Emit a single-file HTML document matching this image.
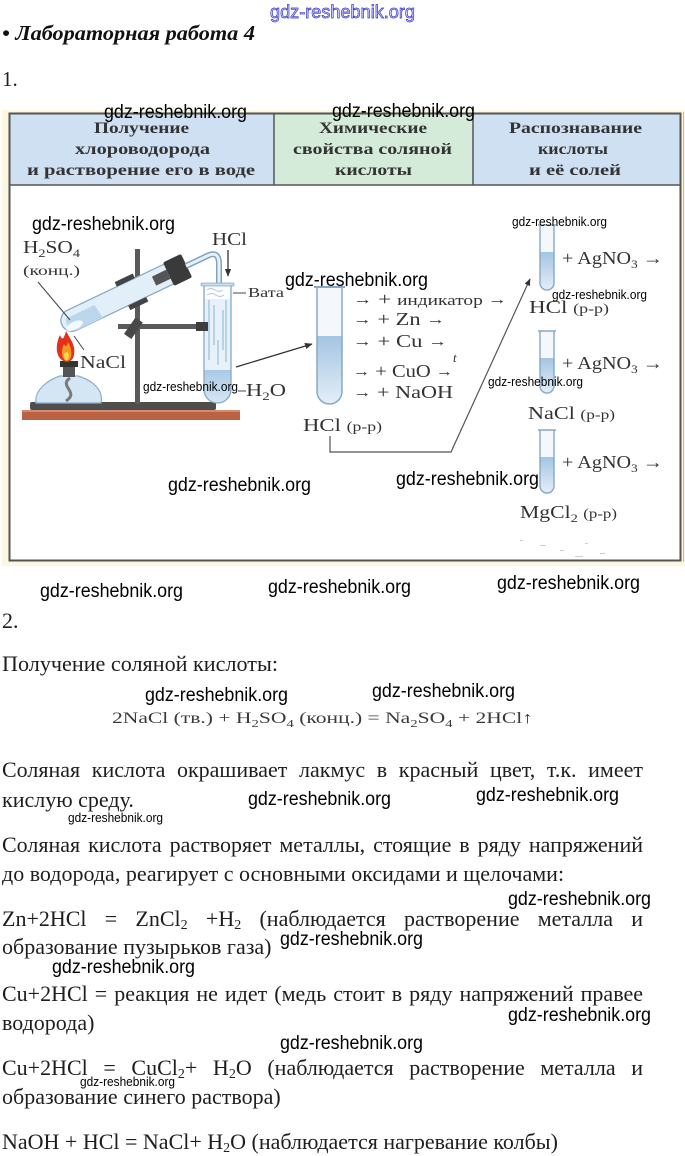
<!DOCTYPE html>
<html><head><meta charset="utf-8">
<style>
html,body{margin:0;padding:0;background:#fff;}
body{width:685px;height:1156px;overflow:hidden;position:relative;}
svg{position:absolute;left:0;top:0;}
.s{font-family:"Liberation Serif","DejaVu Serif",serif;}
.w{font-family:"Liberation Sans","DejaVu Sans",sans-serif;fill:#000;}
.ln{position:absolute;left:2px;font-family:"Liberation Serif","DejaVu Serif",serif;font-size:22px;line-height:22px;color:#1e1e1e;white-space:nowrap;}
.j{width:641px;white-space:normal;text-align:justify;text-align-last:justify;}
.ln sub{font-size:14px;line-height:0;vertical-align:-3px;}
</style></head>
<body>
<svg width="685" height="1156" viewBox="0 0 685 1156" xmlns="http://www.w3.org/2000/svg">
<defs>
<marker id="ah" viewBox="0 0 10 10" refX="9" refY="5" markerWidth="6" markerHeight="6" orient="auto"><path d="M0,1 L10,5 L0,9 z" fill="#333"/></marker>
<linearGradient id="liq" x1="0" y1="0" x2="0" y2="1"><stop offset="0" stop-color="#a4c4e2"/><stop offset="1" stop-color="#e4eef8"/></linearGradient>
<linearGradient id="liq2" x1="0" y1="0" x2="0" y2="1"><stop offset="0" stop-color="#aac9e6"/><stop offset="1" stop-color="#d6e6f4"/></linearGradient>
</defs>

<!-- top watermark -->
<text x="270" y="18" class="w" font-size="18" textLength="145" lengthAdjust="spacingAndGlyphs" style="fill:#d8d8ff;stroke:#3535c5;stroke-width:0.7">gdz-reshebnik.org</text>

<!-- title -->
<text x="2" y="40" class="s" font-size="21" font-weight="bold" font-style="italic" fill="#111" textLength="253" lengthAdjust="spacingAndGlyphs">• Лабораторная работа 4</text>
<text x="2" y="86" class="s" font-size="21" fill="#222">1.</text>

<!-- table -->
<rect x="2" y="110" width="683" height="456" fill="#fcf7e0"/>
<rect x="9.5" y="113.5" width="671" height="447" fill="#fff" stroke="#555" stroke-width="2"/>
<rect x="10.5" y="114.5" width="263.5" height="70.5" fill="#cfe0f3"/>
<rect x="274" y="114.5" width="199" height="70.5" fill="#d3ebd8"/>
<rect x="473" y="114.5" width="206.5" height="70.5" fill="#cfe0f3"/>
<line x1="9.5" y1="185" x2="680.5" y2="185" stroke="#555" stroke-width="1.5"/>
<line x1="274" y1="113.5" x2="274" y2="185" stroke="#555" stroke-width="1.5"/>
<line x1="473" y1="113.5" x2="473" y2="185" stroke="#555" stroke-width="1.5"/>
<rect x="9.5" y="113.5" width="671" height="447" fill="none" stroke="#555" stroke-width="2"/>
<line x1="683.5" y1="112" x2="683.5" y2="562" stroke="#bbb" stroke-width="1"/>

<g class="s" font-size="16" font-weight="bold" fill="#333">
<text x="94" y="133" textLength="95" lengthAdjust="spacingAndGlyphs">Получение</text>
<text x="75" y="154" textLength="135" lengthAdjust="spacingAndGlyphs">хлороводорода</text>
<text x="27" y="175" textLength="228" lengthAdjust="spacingAndGlyphs">и растворение его в воде</text>
<text x="319" y="133" textLength="108" lengthAdjust="spacingAndGlyphs">Химические</text>
<text x="293" y="154" textLength="159" lengthAdjust="spacingAndGlyphs">свойства соляной</text>
<text x="335" y="175" textLength="77" lengthAdjust="spacingAndGlyphs">кислоты</text>
<text x="509" y="133" textLength="133" lengthAdjust="spacingAndGlyphs">Распознавание</text>
<text x="538" y="154" textLength="70" lengthAdjust="spacingAndGlyphs">кислоты</text>
<text x="529" y="175" textLength="92" lengthAdjust="spacingAndGlyphs">и её солей</text>
</g>

<!-- ===== apparatus ===== -->
<rect x="22" y="410" width="218" height="10" fill="#bc6244"/>
<rect x="22" y="410" width="218" height="2" fill="#d58a6e"/>
<rect x="30" y="402" width="186" height="8" rx="2" fill="#4e4e4e"/>
<!-- vertical rod -->
<rect x="135" y="249" width="5" height="155" fill="#5a5a5a"/>
<!-- horizontal rod -->
<rect x="118" y="324" width="86" height="5" fill="#5a5a5a"/>
<rect x="129" y="318" width="9" height="20" fill="#484848" transform="rotate(35 133 328)"/>
<!-- burner -->
<path d="M36,403 C34,390 48,380 60,376 H78 C92,380 104,390 101,403 Z" fill="#d4e6f4" stroke="#8aaecb" stroke-width="1.2"/>
<path d="M70,378 C58,386 80,392 66,401" stroke="#7a7a7a" stroke-width="3" fill="none"/>
<rect x="63" y="366" width="12" height="11" fill="#555"/>
<rect x="60" y="361" width="18" height="6" fill="#333"/>
<!-- flame -->
<path d="M66,362 C55,359 55,345 60,335 C62,341 64,339 66,331 C70,339 76,345 74,355 C73,360 70,362 66,362 Z" fill="#e3311b"/>
<path d="M66,361 C61,358 61,350 64,344 C66,348 67,346 68,342 C71,348 72,352 71,357 C70,360 68,361 66,361 Z" fill="#f39a25"/>
<ellipse cx="66.5" cy="356" rx="2.5" ry="4" fill="#f8d64a"/>

<!-- inclined tube -->
<g transform="rotate(-25.5 62 325)">
<path d="M197,314 H73 A11,11 0 0 0 73,336 H197" fill="#e3eff8" stroke="#86a9c6" stroke-width="1.3"/>
<path d="M100,321 H68 A11,11 0 0 0 73,336 H102 Z" fill="#bcd6ec"/>
<ellipse cx="73" cy="331" rx="9" ry="4" fill="#f6f9fc"/>
<rect x="180" y="312" width="20" height="26" rx="2" fill="#3a3a3a"/>
<rect x="128" y="309" width="20" height="5" fill="#444"/>
<rect x="130" y="336" width="20" height="5" fill="#444"/>
<rect x="164" y="320" width="16" height="10" fill="#555"/>
</g>
<!-- delivery tube -->
<path d="M186,266 L207,256 Q219,250 219,264 L219,334" fill="none" stroke="#7ea4c0" stroke-width="6"/>
<path d="M186,266 L207,256 Q219,250 219,264 L219,334" fill="none" stroke="#e6f1f9" stroke-width="3"/>

<!-- receiving test tube -->
<path d="M204,285 V389.5 A13.5,13.5 0 0 0 231,389.5 V285 Z" fill="#e8f1f9"/>
<path d="M204,370 V389.5 A13.5,13.5 0 0 0 231,389.5 V370 Z" fill="url(#liq2)"/>
<g stroke="#a9c7df" stroke-width="1.5" fill="none">
<path d="M209,300 V360"/><path d="M214,305 V345"/><path d="M226,300 V362"/><path d="M223,310 V350"/><path d="M218,340 V365"/>
</g>
<rect x="205" y="285" width="25" height="14" fill="#fbfdff"/>
<path d="M207,290 q4,-3 8,0 t8,0 M207,295 q5,-3 9,0 t8,0" stroke="#b8c8d6" stroke-width="1" fill="none"/>
<path d="M204,285 V389.5 A13.5,13.5 0 0 0 231,389.5 V285" fill="none" stroke="#86a9c6" stroke-width="1.3"/>
<rect x="201" y="283" width="33" height="3" rx="1" fill="#c9dcec" stroke="#86a9c6" stroke-width="0.8"/>
<rect x="196" y="322" width="12" height="9" fill="#3d3d3d"/>

<!-- labels left -->
<g class="s" fill="#333">
<text x="23" y="253" font-size="18" textLength="57" lengthAdjust="spacingAndGlyphs">H<tspan font-size="12" dy="4">2</tspan><tspan dy="-4">SO</tspan><tspan font-size="12" dy="4">4</tspan></text>
<text x="23" y="275" font-size="13.5" textLength="57" lengthAdjust="spacingAndGlyphs">(конц.)</text>
<text x="212" y="245" font-size="18" textLength="35" lengthAdjust="spacingAndGlyphs">HCl</text>
<text x="248" y="297" font-size="13.5" textLength="36" lengthAdjust="spacingAndGlyphs">Вата</text>
<text x="80" y="368" font-size="18" textLength="46" lengthAdjust="spacingAndGlyphs">NaCl</text>
<text x="246" y="396" font-size="18" textLength="40" lengthAdjust="spacingAndGlyphs">H<tspan font-size="12" dy="4">2</tspan><tspan dy="-4">O</tspan></text>
</g>
<line x1="228" y1="250" x2="228" y2="276" stroke="#333" stroke-width="1.3" marker-end="url(#ah)"/>
<line x1="233" y1="293" x2="246" y2="293" stroke="#444" stroke-width="1"/>
<line x1="238" y1="391" x2="246" y2="391" stroke="#444" stroke-width="1"/>
<line x1="38" y1="282" x2="70" y2="320" stroke="#444" stroke-width="1"/>
<line x1="84" y1="350" x2="74" y2="336" stroke="#444" stroke-width="1"/>

<!-- arrow to middle tube -->
<line x1="236" y1="367" x2="312" y2="344" stroke="#333" stroke-width="1.3" marker-end="url(#ah)"/>

<!-- middle tube -->
<path d="M317,287 V391.5 A12.5,12.5 0 0 0 342,391.5 V287 Z" fill="#f4f8fc"/>
<path d="M317,336 V391.5 A12.5,12.5 0 0 0 342,391.5 V336 Z" fill="url(#liq)"/>
<path d="M317,287 V391.5 A12.5,12.5 0 0 0 342,391.5 V287" fill="none" stroke="#86a9c6" stroke-width="1.5"/>
<line x1="314" y1="287" x2="345" y2="287" stroke="#86a9c6" stroke-width="2"/>

<g class="s" fill="#333" font-size="18">
<text x="353" y="305" textLength="154" lengthAdjust="spacingAndGlyphs"><tspan font-size="15" dy="-1">→</tspan><tspan dy="1"> + </tspan><tspan font-size="15">индикатор </tspan><tspan font-size="15" dy="-1">→</tspan></text>
<text x="353" y="325" textLength="92" lengthAdjust="spacingAndGlyphs"><tspan font-size="15" dy="-1">→</tspan><tspan dy="1"> + Zn </tspan><tspan font-size="15" dy="-1">→</tspan></text>
<text x="353" y="347" textLength="94" lengthAdjust="spacingAndGlyphs"><tspan font-size="15" dy="-1">→</tspan><tspan dy="1"> + Cu </tspan><tspan font-size="15" dy="-1">→</tspan></text>
<text x="353" y="377" textLength="100" lengthAdjust="spacingAndGlyphs"><tspan font-size="15" dy="-1">→</tspan><tspan dy="1"> + CuO </tspan><tspan font-size="15" dy="-1">→</tspan></text>
<text x="453" y="362" font-size="13" font-style="italic">t</text>
<text x="353" y="398" textLength="100" lengthAdjust="spacingAndGlyphs"><tspan font-size="15" dy="-1">→</tspan><tspan dy="1"> + NaOH</tspan></text>
<text x="303" y="431" textLength="79" lengthAdjust="spacingAndGlyphs">HCl <tspan font-size="14">(p-p)</tspan></text>
</g>

<!-- connector -->
<polyline points="330,436 330,452 451,452 530,279" fill="none" stroke="#555" stroke-width="1.2" marker-end="url(#ah)"/>

<!-- right tubes -->
<g>
<path d="M540,225 V283 A7,7 0 0 0 554,283 V225 Z" fill="#f4f8fc"/>
<path d="M540,252 V283 A7,7 0 0 0 554,283 V252 Z" fill="url(#liq)"/>
<path d="M540,225 V283 A7,7 0 0 0 554,283 V225" fill="none" stroke="#86a9c6" stroke-width="1.4"/>
<path d="M540,331 V386 A7,7 0 0 0 554,386 V331 Z" fill="#f4f8fc"/>
<path d="M540,358 V386 A7,7 0 0 0 554,386 V358 Z" fill="url(#liq)"/>
<path d="M540,331 V386 A7,7 0 0 0 554,386 V331" fill="none" stroke="#86a9c6" stroke-width="1.4"/>
<path d="M540,430 V486 A7,7 0 0 0 554,486 V430 Z" fill="#f4f8fc"/>
<path d="M540,457 V486 A7,7 0 0 0 554,486 V457 Z" fill="url(#liq)"/>
<path d="M540,430 V486 A7,7 0 0 0 554,486 V430" fill="none" stroke="#86a9c6" stroke-width="1.4"/>
<line x1="538" y1="225" x2="556" y2="225" stroke="#86a9c6" stroke-width="1.5"/>
<line x1="538" y1="331" x2="556" y2="331" stroke="#86a9c6" stroke-width="1.5"/>
<line x1="538" y1="430" x2="556" y2="430" stroke="#86a9c6" stroke-width="1.5"/>
</g>
<g class="s" fill="#333" font-size="18">
<text x="562" y="264" textLength="101" lengthAdjust="spacingAndGlyphs">+ AgNO<tspan font-size="12" dy="4">3</tspan><tspan dy="-4"> →</tspan></text>
<text x="562" y="369" textLength="101" lengthAdjust="spacingAndGlyphs">+ AgNO<tspan font-size="12" dy="4">3</tspan><tspan dy="-4"> →</tspan></text>
<text x="562" y="468" textLength="101" lengthAdjust="spacingAndGlyphs">+ AgNO<tspan font-size="12" dy="4">3</tspan><tspan dy="-4"> →</tspan></text>
<text x="529" y="313" textLength="80" lengthAdjust="spacingAndGlyphs">HCl <tspan font-size="14">(p-p)</tspan></text>
<text x="528" y="419" textLength="87" lengthAdjust="spacingAndGlyphs">NaCl <tspan font-size="14">(p-p)</tspan></text>
<text x="520" y="518" textLength="97" lengthAdjust="spacingAndGlyphs">MgCl<tspan font-size="12" dy="4">2</tspan><tspan dy="-4"> </tspan><tspan font-size="14">(p-p)</tspan></text>
</g>
<g fill="#ccc">
<rect x="520" y="540" width="3" height="1"/><rect x="540" y="545" width="6" height="1"/><rect x="560" y="550" width="4" height="1"/><rect x="585" y="543" width="3" height="1"/><rect x="600" y="553" width="5" height="1"/><rect x="575" y="556" width="8" height="1"/>
</g>

<!-- watermarks in table -->
<g class="w" font-size="19">
<text x="104" y="118" textLength="143" lengthAdjust="spacingAndGlyphs">gdz-reshebnik.org</text>
<text x="332" y="117" textLength="143" lengthAdjust="spacingAndGlyphs">gdz-reshebnik.org</text>
<text x="32" y="230" textLength="143" lengthAdjust="spacingAndGlyphs">gdz-reshebnik.org</text>
<text x="285" y="286" textLength="143" lengthAdjust="spacingAndGlyphs">gdz-reshebnik.org</text>
<text x="168" y="491" textLength="143" lengthAdjust="spacingAndGlyphs">gdz-reshebnik.org</text>
<text x="396" y="485" textLength="143" lengthAdjust="spacingAndGlyphs">gdz-reshebnik.org</text>
</g>
<g class="w" font-size="13">
<text x="512" y="226" textLength="95" lengthAdjust="spacingAndGlyphs">gdz-reshebnik.org</text>
<text x="552" y="299" textLength="95" lengthAdjust="spacingAndGlyphs">gdz-reshebnik.org</text>
<text x="143" y="391" textLength="95" lengthAdjust="spacingAndGlyphs">gdz-reshebnik.org</text>
<text x="488" y="386" textLength="95" lengthAdjust="spacingAndGlyphs">gdz-reshebnik.org</text>
</g>

<!-- ===== text part watermarks ===== -->
<g class="w" font-size="19">
<text x="40" y="597" textLength="143" lengthAdjust="spacingAndGlyphs">gdz-reshebnik.org</text>
<text x="268" y="593" textLength="143" lengthAdjust="spacingAndGlyphs">gdz-reshebnik.org</text>
<text x="497" y="589" textLength="143" lengthAdjust="spacingAndGlyphs">gdz-reshebnik.org</text>
<text x="145" y="701" textLength="143" lengthAdjust="spacingAndGlyphs">gdz-reshebnik.org</text>
<text x="372" y="697" textLength="143" lengthAdjust="spacingAndGlyphs">gdz-reshebnik.org</text>
<text x="248" y="805" textLength="143" lengthAdjust="spacingAndGlyphs">gdz-reshebnik.org</text>
<text x="476" y="801" textLength="143" lengthAdjust="spacingAndGlyphs">gdz-reshebnik.org</text>
<text x="508" y="905" textLength="143" lengthAdjust="spacingAndGlyphs">gdz-reshebnik.org</text>
<text x="280" y="945" textLength="143" lengthAdjust="spacingAndGlyphs">gdz-reshebnik.org</text>
<text x="52" y="973" textLength="143" lengthAdjust="spacingAndGlyphs">gdz-reshebnik.org</text>
<text x="508" y="1021" textLength="143" lengthAdjust="spacingAndGlyphs">gdz-reshebnik.org</text>
<text x="280" y="1049" textLength="143" lengthAdjust="spacingAndGlyphs">gdz-reshebnik.org</text>
</g>
<g class="w" font-size="13">
<text x="68" y="822" textLength="95" lengthAdjust="spacingAndGlyphs">gdz-reshebnik.org</text>
<text x="80" y="1086" textLength="95" lengthAdjust="spacingAndGlyphs">gdz-reshebnik.org</text>
</g>

<g class="s" fill="#1e1e1e" font-size="22">
<text x="2" y="628">2.</text>
<text x="2" y="671" textLength="276" lengthAdjust="spacingAndGlyphs">Получение соляной кислоты:</text>
<text x="112" y="723" font-size="16" fill="#3a3a3a" textLength="421" lengthAdjust="spacingAndGlyphs">2NaCl (тв.) + H<tspan font-size="11" dy="4">2</tspan><tspan dy="-4">SO</tspan><tspan font-size="11" dy="4">4</tspan><tspan dy="-4"> (конц.) = Na</tspan><tspan font-size="11" dy="4">2</tspan><tspan dy="-4">SO</tspan><tspan font-size="11" dy="4">4</tspan><tspan dy="-4"> + 2HCl↑</tspan></text>
</g>
</svg>

<div class="ln j" style="top:759px">Соляная кислота окрашивает лакмус в красный цвет, т.к. имеет</div>
<div class="ln" style="top:789px">кислую среду.</div>
<div class="ln j" style="top:834px">Соляная кислота растворяет металлы, стоящие в ряду напряжений</div>
<div class="ln" style="top:863px">до водорода, реагирует с основными оксидами и щелочами:</div>
<div class="ln j" style="top:908px">Zn+2HCl = ZnCl<sub>2</sub> +H<sub>2</sub> (наблюдается растворение металла и</div>
<div class="ln" style="top:936px">образование пузырьков газа)</div>
<div class="ln j" style="top:983px">Cu+2HCl = реакция не идет (медь стоит в ряду напряжений правее</div>
<div class="ln" style="top:1012px">водорода)</div>
<div class="ln j" style="top:1057px">Cu+2HCl = CuCl<sub>2</sub>+ H<sub>2</sub>O (наблюдается растворение металла и</div>
<div class="ln" style="top:1086px">образование синего раствора)</div>
<div class="ln" style="top:1131px">NaOH + HCl = NaCl+ H<sub>2</sub>O (наблюдается нагревание колбы)</div>
</body></html>
